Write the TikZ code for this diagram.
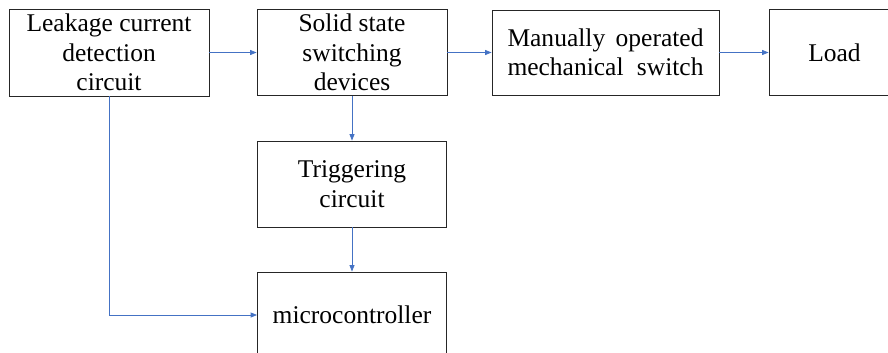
\documentclass[tikz,border=0pt]{standalone}
\usepackage{fontspec}
\setmainfont{Liberation Serif}
\usetikzlibrary{arrows.meta}
\definecolor{linkblue}{RGB}{68,114,196}
\tikzset{
  block/.style={draw=black!85,line width=0.8pt,align=center,inner sep=0pt,
    font=\fontsize{25.5}{29.5}\selectfont},
  link/.style={draw=linkblue,line width=0.8pt,-{Triangle[length=6.5pt,width=5pt]}}
}
\begin{document}
\begin{tikzpicture}[x=1pt,y=-1pt]
\useasboundingbox (0,0) rectangle (888,353);
\clip (0,0) rectangle (888,353);
\node[block,minimum width=200pt,minimum height=87pt] (leak) at (109,52.5)
  {\raisebox{-4pt}{\parbox{196pt}{\centering Leakage current\\detection\\circuit}}};
\node[block,minimum width=190pt,minimum height=86pt] (solid) at (352,52.5)
  {\raisebox{-4pt}{\parbox{186pt}{\centering Solid state\\switching\\devices}}};
\node[block,minimum width=227pt,minimum height=85pt] (manual) at (605.5,52.5)
  {\raisebox{-3pt}{\parbox{196pt}{Manually\hfill operated\\mechanical\hfill switch}}};
\node[block,minimum width=131pt,minimum height=86pt] (load) at (834.5,52.5)
  {\raisebox{-2pt}{Load}};
\node[block,minimum width=189pt,minimum height=86pt] (trig) at (352,184)
  {Triggering\\circuit};
\node[block,minimum width=189pt,minimum height=86pt] (micro) at (352,315)
  {microcontroller};
% connectors
\draw[link] (leak.east) -- (solid.west);
\draw[link] (solid.east) -- (manual.west);
\draw[link] (manual.east) -- (load.west);
\draw[link] (solid.south) -- (trig.north);
\draw[link] (trig.south) -- (micro.north);
\draw[link] (leak.south) |- (micro.west);
\end{tikzpicture}
\end{document}
